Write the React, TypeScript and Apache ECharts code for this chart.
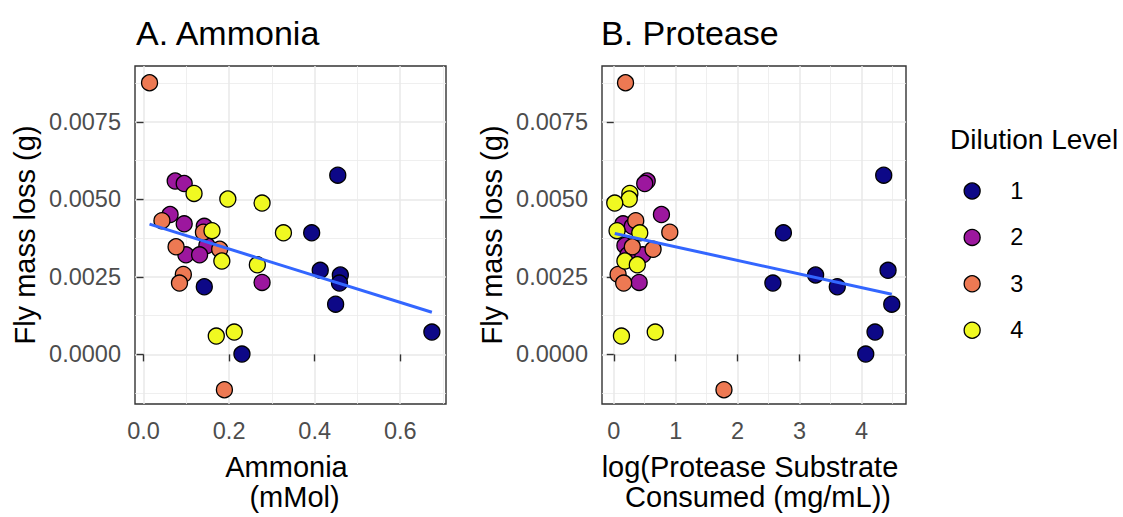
import React, { useEffect, useRef } from 'react';
import * as echarts from 'echarts';

const dilutionLevels = ['1', '2', '3', '4'];
const fillColors = ['#0D0887', '#9C179E', '#ED7953', '#F0F921'];

// Dilution 1
const ammonia1 = [0.454, 0.393, 0.413, 0.46, 0.458, 0.142, 0.449, 0.674, 0.23];
const protease1 = [4.36, 2.74, 4.43, 3.26, 2.57, 3.61, 4.49, 4.22, 4.07];
const massLoss1 = [0.00578, 0.00392, 0.00271, 0.00256, 0.0023, 0.00218, 0.00162, 0.00072, 0.00001];
// Dilution 2
const ammonia2 = [0.074, 0.095, 0.062, 0.095, 0.142, 0.148, 0.099, 0.131, 0.277];
const protease2 = [0.54, 0.5, 0.77, 0.15, 0.3, 0.18, 0.23, 0.47, 0.41];
const massLoss2 = [0.00559, 0.00551, 0.00451, 0.00421, 0.00413, 0.00351, 0.00321, 0.00321, 0.00232];
// Dilution 3
const ammonia3 = [0.014, 0.043, 0.14, 0.076, 0.178, 0.093, 0.084, 0.189];
const protease3 = [0.19, 0.355, 0.905, 0.3, 0.635, 0.07, 0.16, 1.78];
const massLoss3 = [0.00876, 0.00431, 0.00394, 0.00347, 0.00339, 0.00258, 0.0023, -0.00114];
// Dilution 4
const ammonia4 = [0.118, 0.197, 0.277, 0.16, 0.327, 0.183, 0.266, 0.17, 0.212];
const protease4 = [0.26, 0.25, 0.016, 0.053, 0.42, 0.18, 0.38, 0.124, 0.67];
const massLoss4 = [0.00519, 0.00501, 0.00488, 0.00399, 0.00392, 0.00301, 0.00289, 0.00059, 0.00072];

// Fitted lines (endpoints)
const fitAmmonia = [[0.014, 0.0042], [0.674, 0.00136]];
const fitProtease = [[0.016, 0.0039], [4.49, 0.00194]];

// Axis ticks
const yMajor = [0, 0.0025, 0.005, 0.0075];
const yMinor = [-0.00125, 0.00125, 0.00375, 0.00625, 0.00875];
const xAmmoniaMajor = [0, 0.2, 0.4, 0.6];
const xAmmoniaMinor = [0.1, 0.3, 0.5, 0.7];
const xProteaseMajor = [0, 1, 2, 3, 4];
const xProteaseMinor = [0.5, 1.5, 2.5, 3.5, 4.5];

const FONT = "'Liberation Sans', Arial, sans-serif";

export default function App() {
  const ref = useRef<HTMLDivElement>(null);

  useEffect(() => {
    if (!ref.current) return;
    const chart = echarts.init(ref.current, null, { renderer: 'svg' });

    const ammonia = [ammonia1, ammonia2, ammonia3, ammonia4];
    const protease = [protease1, protease2, protease3, protease4];
    const mass = [massLoss1, massLoss2, massLoss3, massLoss4];

    const majorX = (gridIndex: number, min: number, max: number, ticks: number[], digits: number, name: string) => ({
      type: 'value',
      gridIndex,
      min,
      max,
      position: 'bottom',
      name,
      nameLocation: 'middle',
      nameGap: 48,
      nameTextStyle: { fontFamily: FONT, fontSize: 29, color: '#000', lineHeight: 30 },
      axisLine: { show: false },
      axisTick: { show: true, length: 7, customValues: ticks, lineStyle: { color: '#333', width: 1.4 } },
      axisLabel: {
        show: true,
        customValues: ticks,
        margin: 15,
        fontFamily: FONT,
        fontSize: 23.5,
        color: '#4D4D4D',
        formatter: (v: number) => v.toFixed(digits),
      },
      splitLine: { show: true, lineStyle: { color: '#E8E8E8', width: 1.5 } },
    });
    const minorX = (gridIndex: number, min: number, max: number, ticks: number[]) => ({
      type: 'value',
      gridIndex,
      min,
      max,
      position: 'top',
      axisLine: { show: false },
      axisTick: { show: false, customValues: ticks },
      axisLabel: { show: false, customValues: ticks },
      splitLine: { show: true, lineStyle: { color: '#EBEBEB', width: 0.8 } },
    });
    const majorY = (gridIndex: number) => ({
      type: 'value',
      gridIndex,
      min: -0.0016,
      max: 0.0093,
      position: 'left',
      name: 'Fly mass loss (g)',
      nameLocation: 'middle',
      nameRotate: 90,
      nameGap: 96,
      nameTextStyle: { fontFamily: FONT, fontSize: 29, color: '#000' },
      axisLine: { show: false },
      axisTick: { show: true, length: 7, customValues: yMajor, lineStyle: { color: '#333', width: 1.4 } },
      axisLabel: {
        show: true,
        customValues: yMajor,
        margin: 14,
        fontFamily: FONT,
        fontSize: 23.5,
        color: '#4D4D4D',
        formatter: (v: number) => v.toFixed(4),
      },
      splitLine: { show: true, lineStyle: { color: '#E8E8E8', width: 1.5 } },
    });
    const minorY = (gridIndex: number) => ({
      type: 'value',
      gridIndex,
      min: -0.0016,
      max: 0.0093,
      position: 'right',
      axisLine: { show: false },
      axisTick: { show: false, customValues: yMinor },
      axisLabel: { show: false, customValues: yMinor },
      splitLine: { show: true, lineStyle: { color: '#EBEBEB', width: 0.8 } },
    });

    const series: any[] = [];
    [0, 1].forEach((panel) => {
      dilutionLevels.forEach((lvl, i) => {
        const xs = panel === 0 ? ammonia[i] : protease[i];
        series.push({
          type: 'scatter',
          name: lvl,
          xAxisIndex: panel * 2,
          yAxisIndex: panel * 2,
          data: xs.map((x, j) => [x, mass[i][j]]),
          symbol: 'circle',
          symbolSize: 16,
          itemStyle: { color: fillColors[i], borderColor: '#000', borderWidth: 1.3, opacity: 1 },
          emphasis: { disabled: true },
          z: 3,
        });
      });
      series.push({
        type: 'line',
        name: 'fit' + panel,
        xAxisIndex: panel * 2,
        yAxisIndex: panel * 2,
        data: panel === 0 ? fitAmmonia : fitProtease,
        symbol: 'none',
        lineStyle: { color: '#3366FF', width: 3 },
        z: 4,
      });
    });

    chart.setOption({
      animation: false,
      backgroundColor: '#fff',
      title: [
        { text: 'A. Ammonia', left: 136, top: 16, padding: 0, textStyle: { fontFamily: FONT, fontSize: 34, fontWeight: 'normal', color: '#000' } },
        { text: 'B. Protease', left: 601, top: 16, padding: 0, textStyle: { fontFamily: FONT, fontSize: 34, fontWeight: 'normal', color: '#000' } },
        { text: 'Dilution Level', left: 950, top: 125, padding: 0, textStyle: { fontFamily: FONT, fontSize: 28, fontWeight: 'normal', color: '#000' } },
      ],
      legend: {
        data: dilutionLevels,
        orient: 'vertical',
        left: 963.5,
        top: 179,
        padding: 0,
        itemWidth: 16,
        itemHeight: 16,
        itemGap: 22.4,
        icon: 'circle',
        itemStyle: { borderColor: '#000', borderWidth: 1.3 },
        textStyle: { fontFamily: FONT, fontSize: 23.5, color: '#000', padding: [0, 0, 0, 25] },
        selectedMode: false,
      },
      grid: [
        { left: 135, top: 66, width: 311, height: 341.5, show: true, borderColor: '#333', borderWidth: 1.4, backgroundColor: 'transparent' },
        { left: 602, top: 66, width: 304, height: 341.5, show: true, borderColor: '#333', borderWidth: 1.4, backgroundColor: 'transparent' },
      ],
      xAxis: [
        majorX(0, -0.02, 0.707, xAmmoniaMajor, 1, 'Ammonia \n (mMol)'),
        minorX(0, -0.02, 0.707, xAmmoniaMinor),
        majorX(1, -0.19, 4.72, xProteaseMajor, 0, 'log(Protease Substrate \n Consumed (mg/mL))'),
        minorX(1, -0.19, 4.72, xProteaseMinor),
      ],
      yAxis: [majorY(0), minorY(0), majorY(1), minorY(1)],
      series,
    });

    return () => chart.dispose();
  }, []);

  return (
    <div
      ref={ref}
      style={{ position: 'fixed', left: 0, top: 0, width: 1123, height: 517, background: '#fff' }}
    />
  );
}
